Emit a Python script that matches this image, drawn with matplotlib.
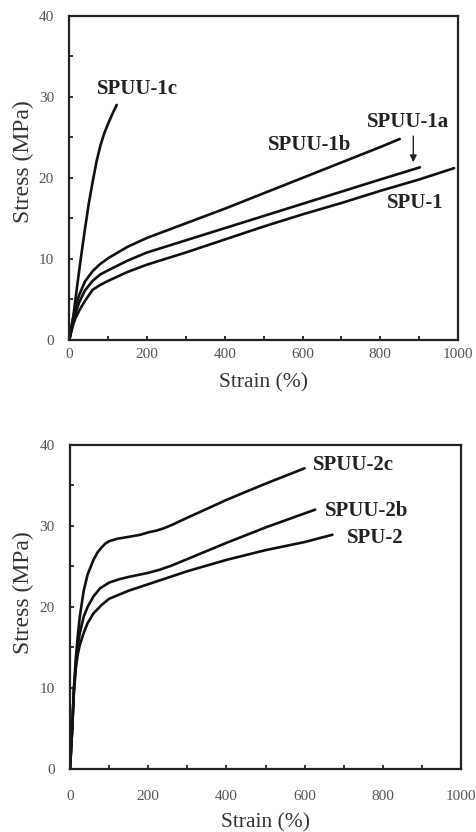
import numpy as np
import matplotlib
matplotlib.use("Agg")
import matplotlib.pyplot as plt

plt.rcParams['font.family'] = ['Liberation Serif', 'DejaVu Serif']

# top panel: stress-strain curves (strain %, stress MPa)
spu1_x = [0, 5, 10, 15, 25, 40, 60, 80, 100, 150, 200, 300, 400, 500, 600, 700, 800, 900, 990]
spu1_y = [0, 1.0, 1.9, 2.6, 3.6, 4.8, 6.2, 6.8, 7.3, 8.4, 9.3, 10.8, 12.4, 14.0, 15.5, 16.9, 18.4, 19.8, 21.2]

spuu1a_x = [0, 5, 10, 15, 25, 40, 60, 80, 100, 150, 200, 300, 400, 500, 600, 700, 800, 902]
spuu1a_y = [0, 1.2, 2.3, 3.2, 4.6, 6.1, 7.3, 8.1, 8.6, 9.8, 10.8, 12.3, 13.8, 15.3, 16.8, 18.3, 19.8, 21.3]

spuu1b_x = [0, 5, 10, 15, 25, 40, 60, 80, 100, 150, 200, 300, 400, 500, 600, 700, 800, 850]
spuu1b_y = [0, 1.5, 2.8, 3.9, 5.5, 7.2, 8.5, 9.4, 10.1, 11.5, 12.6, 14.4, 16.2, 18.1, 20.0, 21.9, 23.8, 24.8]

spuu1c_x = [0, 10, 20, 30, 40, 50, 60, 70, 80, 90, 100, 110, 122]
spuu1c_y = [0, 2.8, 6.6, 10.2, 13.6, 16.8, 19.5, 22.0, 24.0, 25.5, 26.7, 27.8, 29.0]

# bottom panel
spu2_x = [0, 5, 10, 15, 20, 25, 35, 45, 60, 80, 100, 150, 200, 300, 400, 500, 600, 671]
spu2_y = [0, 4.4, 9.5, 12.5, 14.2, 15.3, 16.8, 18.0, 19.2, 20.2, 21.0, 22.0, 22.8, 24.4, 25.8, 27.0, 28.0, 28.9]

spuu2b_x = [0, 5, 10, 15, 20, 25, 35, 45, 60, 77, 100, 125, 150, 200, 230, 260, 300, 400, 500, 627]
spuu2b_y = [0, 4.5, 9.8, 13.0, 15.2, 16.8, 18.8, 20.0, 21.3, 22.3, 23.0, 23.4, 23.7, 24.2, 24.6, 25.1, 25.9, 27.9, 29.8, 32.0]

spuu2c_x = [0, 5, 10, 15, 20, 25, 35, 45, 60, 70, 80, 90, 100, 120, 145, 180, 200, 220, 240, 260, 300, 400, 500, 600]
spuu2c_y = [0, 4.5, 10.0, 13.8, 16.5, 18.8, 22.0, 24.0, 25.8, 26.7, 27.3, 27.8, 28.1, 28.4, 28.6, 28.9, 29.2, 29.4, 29.7, 30.1, 31.0, 33.2, 35.2, 37.1]

top_labels = ['SPUU-1c', 'SPUU-1b', 'SPUU-1a', 'SPU-1']
top_label_pos = [(175, 31.0), (619, 24.05), (872, 26.9), (889, 16.9)]
bottom_labels = ['SPUU-2c', 'SPUU-2b', 'SPU-2']
bottom_label_pos = [(725, 37.45), (759, 31.8), (780, 28.5)]

fig = plt.figure(figsize=(4.76, 8.32), dpi=100)
ax1 = fig.add_axes([0.1456, 0.5913, 0.8166, 0.3898])
ax2 = fig.add_axes([0.1471, 0.0757, 0.8214, 0.3897])


def style_axes(ax, xpad, xlab_y, ylab_y):
    ax.set_xlim(0, 1000)
    ax.set_ylim(0, 40)
    ax.set_xticks(np.arange(0, 1001, 200))
    ax.set_xticks(np.arange(100, 1000, 200), minor=True)
    ax.set_yticks(np.arange(0, 41, 10))
    ax.set_yticks(np.arange(5, 40, 10), minor=True)
    ax.tick_params(which='both', direction='in', top=False, right=False,
                   width=1.3, colors='#222222', labelcolor='#555555', labelsize=11)
    ax.tick_params(which='both', length=3)
    ax.tick_params(axis='y', pad=11)
    ax.tick_params(axis='x', pad=xpad)
    for s in ax.spines.values():
        s.set_linewidth(1.6)
        s.set_color('#222222')
    ax.set_xlabel('Strain (%)', fontsize=15.5, color='#333333', va='center')
    ax.set_ylabel('Stress (MPa)', fontsize=17, color='#333333', va='center')
    ax.xaxis.set_label_coords(0.5, xlab_y)
    ax.yaxis.set_label_coords(-0.118, ylab_y)


lw = 1.9
for xs, ys in [(spu1_x, spu1_y), (spuu1a_x, spuu1a_y), (spuu1b_x, spuu1b_y), (spuu1c_x, spuu1c_y)]:
    ax1.plot(xs, ys, color='#111111', lw=lw, solid_joinstyle='round', solid_capstyle='round')
for txt, (x, y) in zip(top_labels, top_label_pos):
    ax1.text(x, y, txt, fontsize=15, fontweight='bold', color='#222222', ha='center', va='center')
ax1.annotate('', xy=(885, 21.6), xytext=(885, 25.5),
             arrowprops=dict(arrowstyle='-|>', color='#222222', lw=1.0, mutation_scale=10))
style_axes(ax1, 6, -0.133, 0.549)

for xs, ys in [(spu2_x, spu2_y), (spuu2b_x, spuu2b_y), (spuu2c_x, spuu2c_y)]:
    ax2.plot(xs, ys, color='#111111', lw=lw, solid_joinstyle='round', solid_capstyle='round')
for txt, (x, y) in zip(bottom_labels, bottom_label_pos):
    ax2.text(x, y, txt, fontsize=15, fontweight='bold', color='#222222', ha='center', va='center')
style_axes(ax2, 15, -0.166, 0.545)

fig.savefig('out.png', dpi=100)
